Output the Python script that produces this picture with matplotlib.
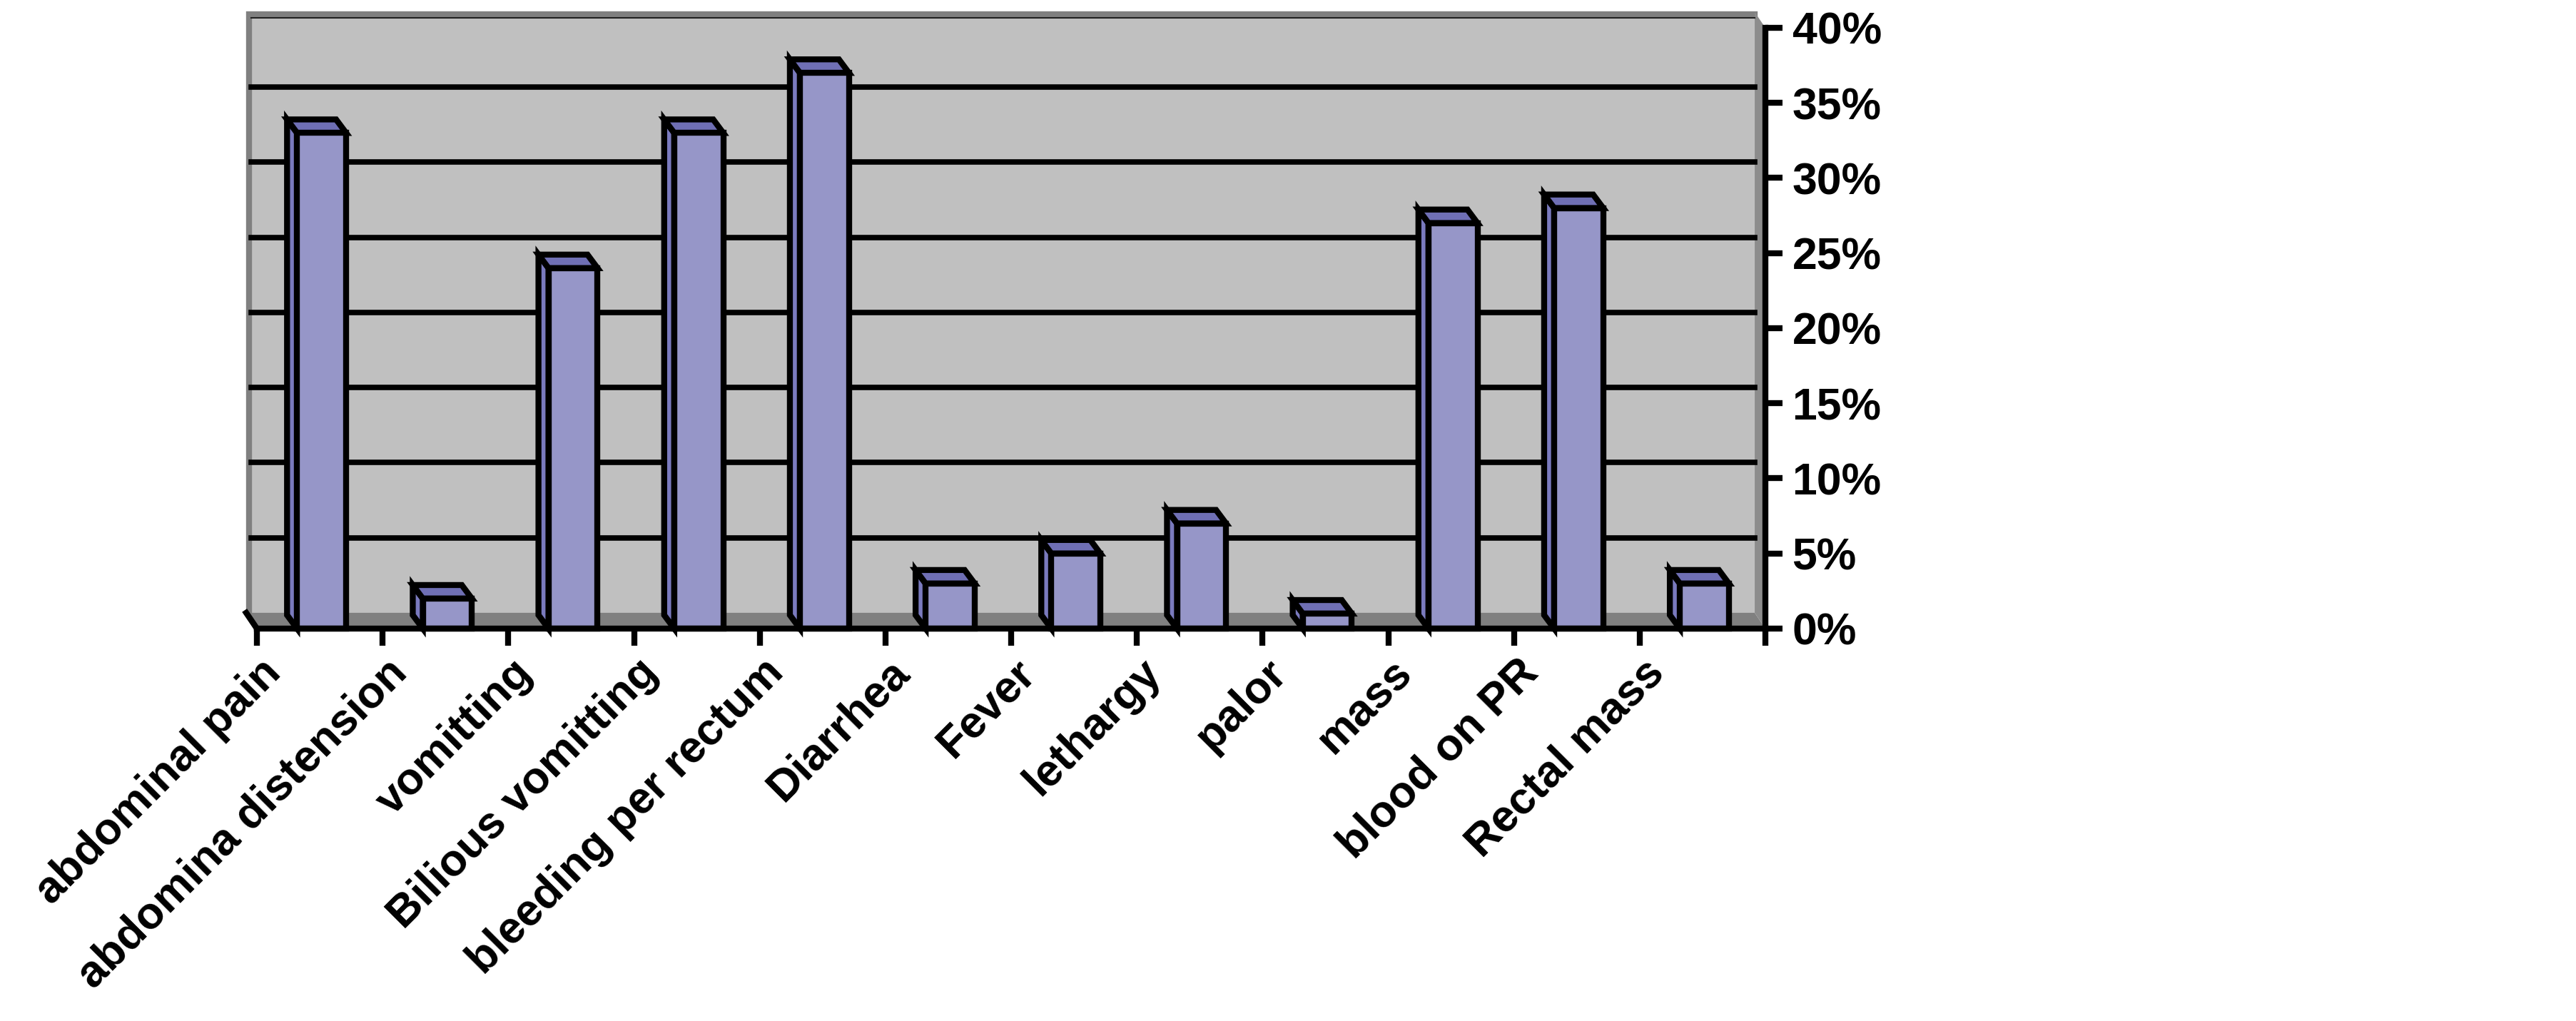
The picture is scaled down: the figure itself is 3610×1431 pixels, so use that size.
import matplotlib
matplotlib.use("Agg")
import matplotlib.pyplot as plt
from matplotlib.patches import Polygon

# ---- data ----
categories = ["abdominal pain", "abdomina distension", "vomitting",
              "Bilious vomitting", "bleeding per rectum", "Diarrhea", "Fever",
              "lethargy", "palor", "mass", "blood on PR", "Rectal mass"]
percent = [33, 2, 24, 33, 37, 3, 5, 7, 1, 27, 28, 3]
y_ticks = [0, 5, 10, 15, 20, 25, 30, 35, 40]

FONT = "Liberation Sans"
LW = 6.0
FS = 45

# depth of the fake 3d look, in data units (category / percent)
WALL_DX, WALL_DY = -0.085, 1.05
BAR_DX, BAR_DY = -0.08, 0.9
BAR_LEFT, BAR_W = 0.32, 0.39


def main():
    fig = plt.figure(figsize=(36.1, 14.31), dpi=100)
    ax = fig.add_axes([360 / 3610, 550 / 1431, 2114 / 3610, 842 / 1431])
    n = len(categories)
    ax.set_xlim(0, n)
    ax.set_ylim(0, 40)
    ax.set_facecolor("none")

    # back wall
    dx, dy = WALL_DX, WALL_DY
    ax.add_patch(Polygon([(dx, dy), (n + dx, dy), (n + dx, 40 + dy), (dx, 40 + dy)],
                         closed=True, facecolor="#C0C0C0", edgecolor="none",
                         zorder=1, clip_on=False))
    ax.plot([dx + 0.02, dx + 0.02, n + dx], [dy, 40 + dy - 0.17, 40 + dy - 0.17],
            color="#808080", lw=LW, solid_joinstyle="miter", zorder=1.5, clip_on=False)
    ax.plot([dx + 0.04, n + dx], [40 + dy - 0.4, 40 + dy - 0.4],
            color="#222222", lw=1.5, zorder=1.6, clip_on=False)
    # right side strip
    ax.add_patch(Polygon([(n + dx, dy), (n, 0), (n, 40), (n + dx, 40 + dy)],
                         closed=True, facecolor="#8C8C8C", edgecolor="none",
                         zorder=1.5, clip_on=False))
    # floor
    ax.add_patch(Polygon([(dx, dy), (n + dx, dy), (n, 0), (0, 0)],
                         closed=True, facecolor="#808080", edgecolor="none",
                         zorder=1.5, clip_on=False))
    ax.plot([dx, 0], [dy, 0], color="black", lw=LW, zorder=1.7, clip_on=False)

    # gridlines on the wall
    for v in y_ticks[1:-1]:
        ax.plot([dx + 0.04, n + dx], [v + dy, v + dy], color="black", lw=5.5,
                zorder=2, clip_on=False)

    # bars: side + top faces, then the front face
    for i, v in enumerate(percent):
        x0 = i + BAR_LEFT
        x1 = x0 + BAR_W
        side = [(x0, 0), (x0, v), (x0 + BAR_DX, v + BAR_DY), (x0 + BAR_DX, BAR_DY)]
        top = [(x0, v), (x1, v), (x1 + BAR_DX, v + BAR_DY), (x0 + BAR_DX, v + BAR_DY)]
        ax.add_patch(Polygon(side, closed=True, facecolor="#7A7ABE", edgecolor="black",
                             lw=LW, joinstyle="miter", zorder=3, clip_on=False))
        ax.add_patch(Polygon(top, closed=True, facecolor="#6F6FB4", edgecolor="black",
                             lw=LW, joinstyle="miter", zorder=3, clip_on=False))
    ax.bar([i + BAR_LEFT for i in range(n)], percent, width=BAR_W, align="edge",
           color="#9696C8", edgecolor="black", linewidth=LW, zorder=4, clip_on=False)

    # axes
    for s in ["left", "top"]:
        ax.spines[s].set_visible(False)
    for s in ["bottom", "right"]:
        ax.spines[s].set_linewidth(LW)
        ax.spines[s].set_zorder(5)
    ax.set_xticks(range(n + 1))
    ax.set_xticklabels([])
    ax.tick_params(axis="x", direction="out", length=17, width=LW)
    ax.yaxis.tick_right()
    ax.set_yticks(y_ticks)
    ax.set_yticklabels([f"{v}%" for v in y_ticks])
    ax.tick_params(axis="y", direction="out", length=17, width=LW, pad=10,
                   labelsize=FS)
    for lab in ax.get_yticklabels():
        lab.set_fontweight("bold")
        lab.set_fontfamily(FONT)

    # rotated category labels
    for i, name in enumerate(categories):
        ax.text(i + 0.5 - 0.36, -2.5, name, rotation=45, rotation_mode="anchor",
                ha="right", va="center", fontsize=FS, fontweight="bold",
                family=FONT, clip_on=False)

    fig.savefig("out.png", dpi=100, facecolor="white")


if __name__ == "__main__":
    main()
